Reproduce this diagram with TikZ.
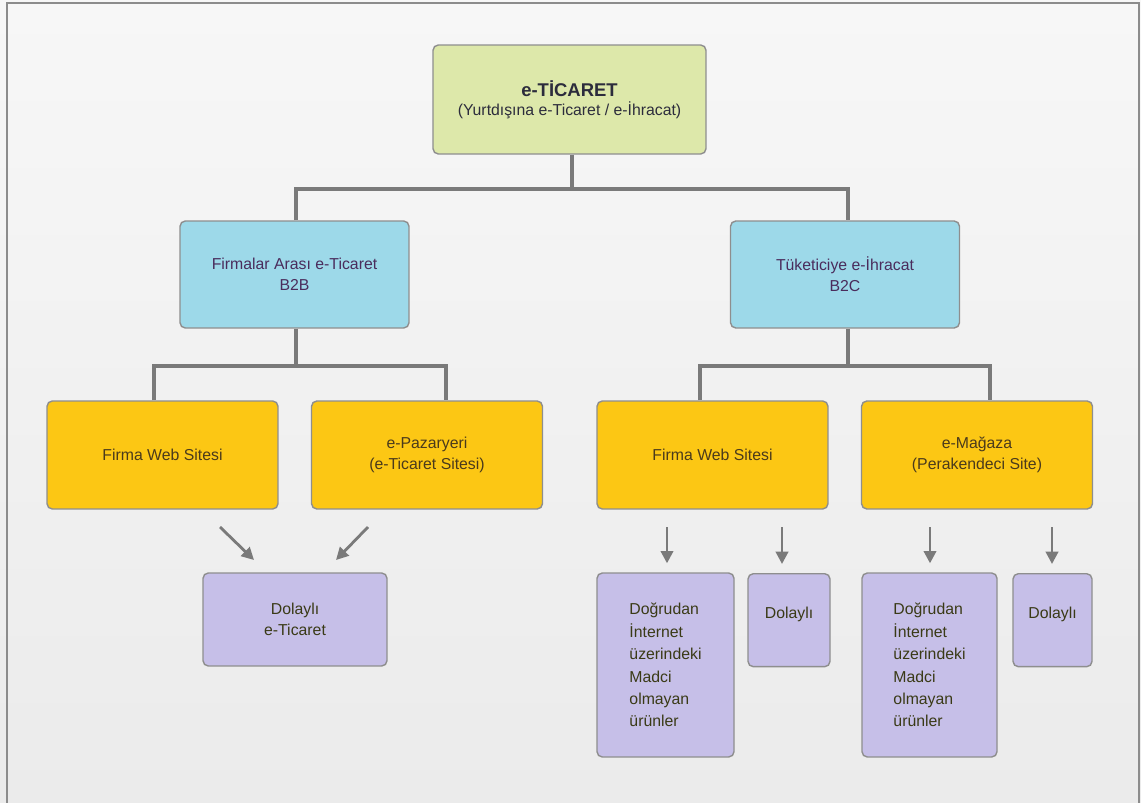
\documentclass[tikz,border=0pt]{standalone}
\usepackage{fontspec}
\setmainfont{Liberation Sans}
\usetikzlibrary{arrows.meta,calc}
\definecolor{bgc}{HTML}{EBEBEB}
\definecolor{framec}{HTML}{8C8C8C}
\definecolor{linec}{HTML}{7A7A7A}
\definecolor{boxline}{HTML}{8E8E8E}
\definecolor{topfill}{HTML}{DDE8AA}
\definecolor{bluefill}{HTML}{9DD9E9}
\definecolor{yelfill}{HTML}{FCC714}
\definecolor{purfill}{HTML}{C6BFE8}
\definecolor{toptext}{HTML}{2C2C3C}
\definecolor{bluetext}{HTML}{4A2C5C}
\definecolor{yeltext}{HTML}{4A3A1C}
\definecolor{purtext}{HTML}{3A3A16}
\tikzset{
  box/.style={draw=boxline, line width=0.8pt, rounded corners=3pt, inner sep=2pt, align=center,
              font=\fontsize{9}{12}\selectfont},
  topbox/.style={box, fill=topfill, text=toptext, minimum width=5.46cm, minimum height=2.18cm},
  bluebox/.style={box, fill=bluefill, text=bluetext, minimum width=4.58cm, minimum height=2.14cm},
  yelbox/.style={box, fill=yelfill, text=yeltext, minimum width=4.62cm, minimum height=2.16cm},
  purbox/.style={box, fill=purfill, text=purtext, minimum height=1.86cm},
  tallbox/.style={box, fill=purfill, text=purtext, minimum height=3.68cm, align=left,
              font=\fontsize{9}{12.8}\selectfont},
  conn/.style={draw=linec, line width=1.8pt},
  arr/.style={draw=linec, line width=1.6pt, -{Triangle[length=7pt,width=7pt]}}
}
\begin{document}
\begin{tikzpicture}[x=0.02cm,y=-0.02cm]
\useasboundingbox (0,0) rectangle (1141,803);
\shade[top color=white!60!bgc, bottom color=bgc] (0,0) rectangle (1141,803);
\draw[framec, line width=1.2pt] (7,803) -- (7,3) -- (1139,3) -- (1139,803);

% level 0
\node[topbox] (top) at (569.5,99.5) {{\fontsize{10.5}{11}\selectfont\bfseries e-TİCARET}\\[-1pt](Yurtdışına e-Ticaret / e-İhracat)};

% level 1
\node[bluebox] (b2b) at (294.5,274.5) {Firmalar Arası e-Ticaret\\B2B};
\node[bluebox] (b2c) at (845,274.5) {Tüketiciye e-İhracat\\B2C};

% level 2
\node[yelbox] (fws1) at (162.5,455) {Firma Web Sitesi};
\node[yelbox] (pazar) at (427,455) {e-Pazaryeri\\(e-Ticaret Sitesi)};
\node[yelbox] (fws2) at (712.5,455) {Firma Web Sitesi};
\node[yelbox] (magaza) at (977,455) {e-Mağaza\\(Perakendeci Site)};

% level 3
\node[purbox, minimum width=3.68cm] (dol0) at (295,619.5) {Dolaylı\\e-Ticaret};
\node[tallbox, minimum width=2.74cm] (dog1) at (665.5,665) {Doğrudan\\İnternet\\üzerindeki\\Madci\\olmayan\\ürünler};
\node[purbox, minimum width=1.64cm, anchor=north] (dol1) at (789,573) {\\[-16pt]Dolaylı};
\node[tallbox, minimum width=2.7cm] (dog2) at (929.5,665) {Doğrudan\\İnternet\\üzerindeki\\Madci\\olmayan\\ürünler};
\node[purbox, minimum width=1.58cm, anchor=north] (dol2) at (1052.5,573) {\\[-16pt]Dolaylı};

% junction coordinates
\coordinate (j0) at (572,189);
\coordinate (jl) at (296,366);
\coordinate (jr) at (848,366);
\coordinate (l1) at (154,366);
\coordinate (l2) at (446,366);
\coordinate (r1) at (700,366);
\coordinate (r2) at (990,366);

% tree connectors
\draw[conn] (top.south -| j0) -- (j0);
\draw[conn] (b2b.north -| jl) |- (j0) -| (b2c.north -| jr);
\draw[conn] (b2b.south -| jl) -- (jl);
\draw[conn] (fws1.north -| l1) |- (jl) -| (pazar.north -| l2);
\draw[conn] (b2c.south -| jr) -- (jr);
\draw[conn] (fws2.north -| r1) |- (jr) -| (magaza.north -| r2);

% arrows
\coordinate (a1) at (220,527);
\coordinate (t1) at (254,560);
\coordinate (a2) at (368,527);
\coordinate (t2) at (336,560);
\draw[arr] (a1) -- (t1);
\draw[arr] (a2) -- (t2);
\coordinate (v1) at (667,527);
\coordinate (v2) at (782,527);
\coordinate (v3) at (930,527);
\coordinate (v4) at (1052,527);
\draw[arr] (v1) -- ($(v1 |- dog1.north)+(0,-9)$);
\draw[arr] (v2) -- ($(v2 |- dol1.north)+(0,-9)$);
\draw[arr] (v3) -- ($(v3 |- dog2.north)+(0,-9)$);
\draw[arr] (v4) -- ($(v4 |- dol2.north)+(0,-9)$);
\end{tikzpicture}
\end{document}
